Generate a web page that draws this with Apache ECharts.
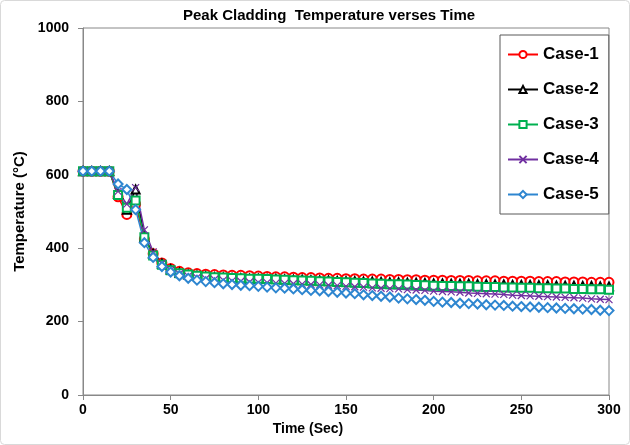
<!DOCTYPE html>
<html>
<head>
<meta charset="utf-8">
<script src="https://cdn.jsdelivr.net/npm/echarts@6/dist/echarts.min.js"></script>
<style>
html,body{margin:0;padding:0;background:#fff;}
#chart{width:630px;height:445px;}
</style>
</head>
<body>
<div id="chart"></div>
<script>
var times = [0,5,10,15,20,25,30,35,40,45,50,55,60,65,70,75,80,85,90,95,100,
  105,110,115,120,125,130,135,140,145,150,155,160,165,170,175,180,185,190,195,200,
  205,210,215,220,225,230,235,240,245,250,255,260,265,270,275,280,285,290,295,300];

var case1 = [610,610,610,610,540,492,520,425,385,360,345,337,333,331,329,328,327,326,326,325,324,
  323,322,322,321,320,320,319,318,318,317,
  317,316,316,316,315,315,314,314,313,313,
  313,312,312,312,311,311,311,310,310,310,
  310,309,309,309,308,308,308,307,307,307];

var case2 = [610,610,610,610,548,505,560,430,385,358,342,333,328,325,323,321,320,319,318,317,317,
  316,316,315,314,314,313,312,312,311,310,
  310,309,309,308,307,307,306,306,305,304,
  304,303,303,303,302,302,301,301,300,300,
  300,299,299,298,298,298,297,297,296,296];

var case3 = [610,610,610,610,545,510,530,430,380,355,340,332,328,325,323,321,320,319,318,317,317,
  316,315,314,313,312,311,310,309,308,307,
  306,305,304,303,302,302,301,300,299,298,
  297,297,296,296,295,294,294,293,293,292,
  292,291,291,290,290,289,289,288,288,287];

var case4 = [610,610,610,610,555,520,565,450,390,358,340,330,324,320,317,315,313,311,310,308,307,
  306,305,304,303,302,301,300,299,298,296,
  295,294,292,291,290,289,287,286,285,283,
  282,281,280,278,277,276,275,274,272,271,
  270,269,268,267,266,265,264,262,261,260];

var case5 = [610,610,610,610,575,560,505,415,375,350,335,325,318,313,309,306,303,301,299,298,296,
  294,292,291,289,287,285,284,282,280,278,
  276,273,271,269,267,264,262,260,258,255,
  253,252,250,249,248,246,245,244,242,241,
  240,239,238,237,236,235,234,233,231,230];

var seriesNames = ['Case-1','Case-2','Case-3','Case-4','Case-5'];
var xTicks = [0,50,100,150,200,250,300];
var yTicks = [0,200,400,600,800,1000];

function pairs(vals){ return times.map(function(t,i){ return [t, vals[i]]; }); }

var FONT = '"Liberation Sans", Arial, sans-serif';
var colors = ['#FF0000','#000000','#00B050','#7030A0','#2E86D0'];
var symbols = ['emptyCircle','emptyTriangle','emptyRect','path://M0,0L10,10M10,0L0,10','emptyDiamond'];
var sizes = [9,8,8,7,9];
var allData = [case1,case2,case3,case4,case5];

var series = allData.map(function(d,i){
  return {
    name: seriesNames[i],
    type: 'line',
    data: pairs(d),
    symbol: symbols[i],
    symbolSize: sizes[i],
    showAllSymbol: true,
    lineStyle: {color: colors[i], width: 1.5},
    itemStyle: {color: i===3 ? 'rgba(0,0,0,0)' : colors[i], borderColor: colors[i], borderWidth: 1.2},
    emphasis: {disabled: true},
    animation: false
  };
});

var chart = echarts.init(document.getElementById('chart'), null, {renderer:'canvas'});
chart.setOption({
  animation: false,
  graphic: [
    {type:'rect', shape:{x:0.5,y:0.5,width:629,height:444,r:4}, style:{fill:'none', stroke:'#d9d9d9', lineWidth:1}, z:-10},
    {type:'text', left: 183, top: 8, style:{text:'Peak Cladding  Temperature verses Time', font:'bold 15px ' + FONT, fill:'#000'}}
  ],
  grid: {left: 83, right: 21, top: 28, bottom: 50, show: true, borderColor: '#888', borderWidth: 1},
  legend: {
    data: seriesNames,
    orient: 'vertical',
    left: 500, top: 35,
    width: 108,
    padding: [10, 10, 10, 7],
    itemWidth: 30, itemHeight: 9, itemGap: 16,
    borderColor: '#595959', borderWidth: 1,
    backgroundColor: '#fff',
    textStyle: {fontFamily: FONT, fontWeight: 'bold', fontSize: 17, color: '#000', lineHeight: 19}
  },
  xAxis: {
    type: 'value', min: 0, max: 300, interval: 50,
    name: 'Time (Sec)', nameLocation: 'middle', nameGap: 26,
    nameTextStyle: {fontFamily: FONT, fontWeight: 'bold', fontSize: 14, color: '#000', padding: [0, 76, 0, 0]},
    axisLine: {show: true, lineStyle: {color: '#888'}},
    axisTick: {show: true, inside: false, length: 5, lineStyle: {color: '#888'}},
    axisLabel: {fontFamily: FONT, fontWeight: 'bold', fontSize: 14, color: '#000', margin: 8,
      formatter: function(v){ return xTicks.indexOf(v) >= 0 ? String(v) : ''; }},
    splitLine: {show: false}
  },
  yAxis: {
    type: 'value', min: 0, max: 1000, interval: 200,
    name: 'Temperature (\u00B0C)', nameLocation: 'middle', nameGap: 54,
    nameTextStyle: {fontFamily: FONT, fontWeight: 'bold', fontSize: 15, color: '#000'},
    axisLine: {show: true, lineStyle: {color: '#888'}},
    axisTick: {show: true, inside: false, length: 5, lineStyle: {color: '#888'}},
    axisLabel: {fontFamily: FONT, fontWeight: 'bold', fontSize: 14, color: '#000', margin: 14,
      formatter: function(v){ return yTicks.indexOf(v) >= 0 ? String(v) : ''; }},
    splitLine: {show: false}
  },
  series: series
});
</script>
</body>
</html>
